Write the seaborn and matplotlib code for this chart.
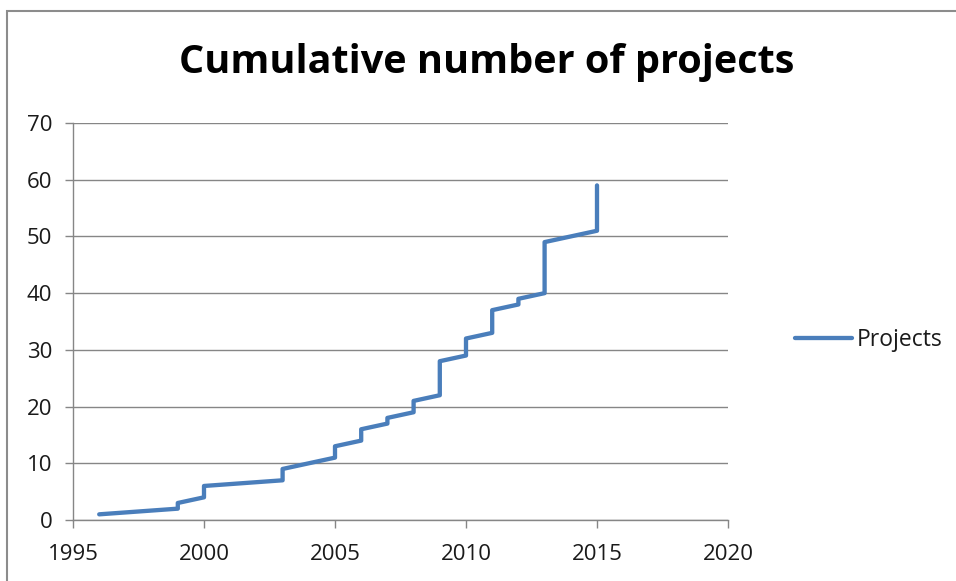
import matplotlib
matplotlib.use("Agg")
import matplotlib.pyplot as plt
import seaborn as sns
import pandas as pd
from matplotlib.patches import Rectangle

years = [1996, 1999, 1999, 2000, 2000, 2003, 2003, 2004, 2005, 2005, 2006, 2006,
         2007, 2007, 2008, 2008, 2009, 2009, 2010, 2010, 2011, 2011, 2012, 2012,
         2013, 2013, 2015, 2015]
projects = [1, 2, 3, 4, 6, 7, 9, 10, 11, 13, 14, 16,
            17, 18, 19, 21, 22, 28, 29, 32, 33, 37, 38, 39,
            40, 49, 51, 59]
x_ticks = [1995, 2000, 2005, 2010, 2015, 2020]
y_ticks = [0, 10, 20, 30, 40, 50, 60, 70]
series_name = "Projects"
title = "Cumulative number of projects"

df = pd.DataFrame({"Year": years, "Value": projects, "Series": series_name})

sns.set_theme(style="white")
plt.rcParams["font.family"] = ["Open Sans", "DejaVu Sans"]

W, H = 956, 581
fig = plt.figure(figsize=(W / 100, H / 100), dpi=100)
ax = fig.add_axes([73 / W, 1 - 520 / H, (728 - 73) / W, (520 - 123) / H])

line_color = "#4a7ebb"
sns.lineplot(data=df, x="Year", y="Value", hue="Series", palette=[line_color],
             estimator=None, sort=False, linewidth=3.1, ax=ax, legend=True)

ax.set_xlim(1995, 2020)
ax.set_ylim(0, 70)
ax.set_xticks(x_ticks)
ax.set_yticks(y_ticks)
ax.set_xlabel("")
ax.set_ylabel("")

grid_c = "#868686"
ax.yaxis.grid(True, color=grid_c, linewidth=1.0)
ax.xaxis.grid(False)
ax.set_axisbelow(True)
for s in ["top", "right"]:
    ax.spines[s].set_visible(False)
for s in ["left", "bottom"]:
    ax.spines[s].set_color(grid_c)
    ax.spines[s].set_linewidth(1.0)
ax.tick_params(axis="both", which="major", direction="out", length=6, width=1.0,
               color=grid_c, labelsize=16, labelcolor="#1a1a1a", pad=9,
               bottom=True, left=True)
ax.tick_params(axis="x", pad=11)

leg = ax.legend(loc="center left", bbox_to_anchor=(786 / W, 1 - 340 / H),
                bbox_transform=fig.transFigure, frameon=False, fontsize=16.5,
                handlelength=2.5, handletextpad=0.2, borderaxespad=0)
for txt in leg.get_texts():
    txt.set_color("#1a1a1a")
for ln in leg.get_lines():
    ln.set_linewidth(3.1)

fig.text(487 / W, 1 - 62 / H, title, ha="center", va="center",
         fontsize=28.5, fontweight="bold", color="black")

fig.patches.append(Rectangle((6.5 / W, -0.1), 2.0, (H - 10.5) / H + 0.1,
                             transform=fig.transFigure, fill=False,
                             edgecolor="#8c8c8c", linewidth=1.5))

fig.savefig("out.png", dpi=100)
